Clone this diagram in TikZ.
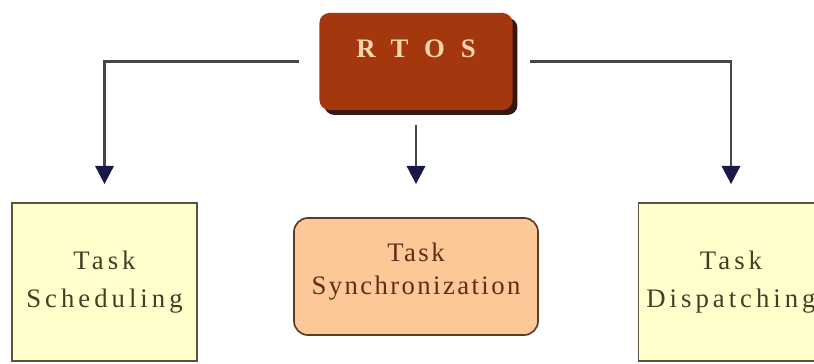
\documentclass[tikz,border=0pt]{standalone}
\usepackage{fontspec}
\setmainfont{Liberation Serif}
\usetikzlibrary{arrows.meta, positioning, shadows}

\definecolor{rtosred}{RGB}{165,55,15}
\definecolor{rtostext}{RGB}{250,215,170}
\definecolor{rtosshadow}{RGB}{50,25,20}
\definecolor{taskfill}{RGB}{255,255,204}
\definecolor{taskedge}{RGB}{95,80,65}
\definecolor{tasktext}{RGB}{70,60,40}
\definecolor{syncfill}{RGB}{252,200,152}
\definecolor{syncedge}{RGB}{95,60,40}
\definecolor{synctext}{RGB}{95,45,20}
\definecolor{linegray}{RGB}{70,70,70}
\definecolor{tipblue}{RGB}{25,25,70}

\begin{document}
\begin{tikzpicture}[x=0.025cm, y=-0.025cm,
      every node/.style={font=\fontsize{19}{27}\selectfont\addfontfeature{LetterSpace=15}},
      os/.style={rectangle, rounded corners=7pt, fill=rtosred, text=rtostext, minimum width=4.825cm, minimum height=2.425cm,
        font=\fontsize{19}{27}\selectfont\bfseries\addfontfeature{LetterSpace=60},
        text height=13pt, text depth=19pt,
        drop shadow={shadow xshift=3.5pt, shadow yshift=-3.5pt, fill=rtosshadow, opacity=1}},
      task/.style={rectangle, draw=taskedge, line width=1.2pt, fill=taskfill, text=tasktext, align=center, minimum width=4.625cm, minimum height=3.95cm},
      sync/.style={rectangle, rounded corners=10pt, draw=syncedge, line width=1.2pt, fill=syncfill, text=synctext, align=center, minimum width=6.1cm, minimum height=2.925cm,
        font=\fontsize{19}{23.5}\selectfont\addfontfeature{LetterSpace=9},
        text height=30pt, text depth=5pt},
      conn/.style={draw=linegray, line width=2pt, -{Triangle[length=13pt, width=13pt, color=tipblue]}}]

      \clip (0,0) rectangle (814,363);

      \node[os] (rtos) at (416,61.5) {RTOS};
      \node[task] (sched) at (104.5,282) {Task\\Scheduling};
      \node[sync] (sync) at (416,276.5) {Task\\Synchronization};
      \node[task] (disp) at (731,282) {Task\\Dispatching};

      % Connectors from RTOS to the three parts
      \draw[conn, shorten <=0.5cm, shorten >=0.45cm] (rtos.west) -| (sched.north);
      \draw[conn, shorten <=0.375cm, shorten >=0.825cm] (rtos.south) -- (sync.north);
      \draw[conn, shorten <=0.425cm, shorten >=0.45cm] (rtos.east) -| (disp.north);
    \end{tikzpicture}
\end{document}
